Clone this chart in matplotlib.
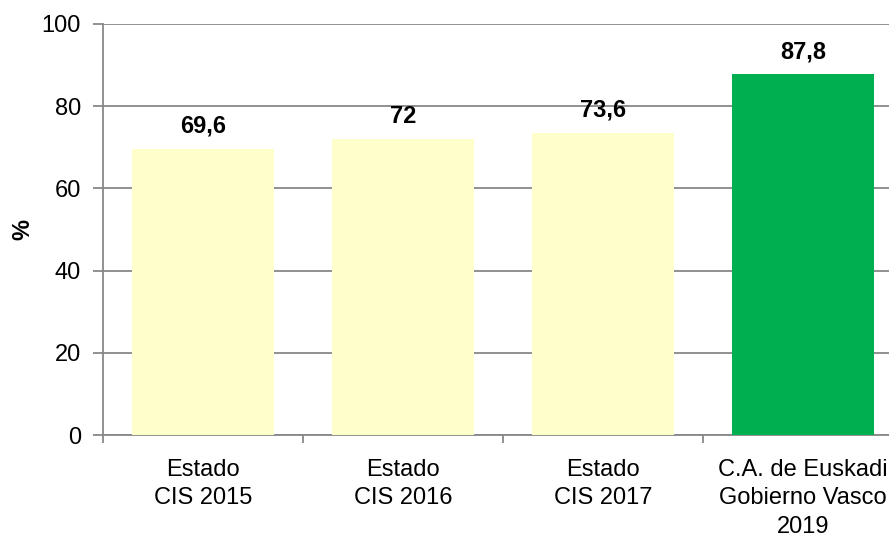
import matplotlib
matplotlib.use("Agg")
import matplotlib.pyplot as plt
from matplotlib.ticker import FixedLocator

plt.rcParams['font.family'] = ['Liberation Sans', 'DejaVu Sans']

categories = ["Estado\nCIS 2015", "Estado\nCIS 2016", "Estado\nCIS 2017",
              "C.A. de Euskadi\nGobierno Vasco\n2019"]
values = [69.6, 72, 73.6, 87.8]
value_labels = ["69,6", "72", "73,6", "87,8"]
bar_colors = ["#FFFFCC", "#FFFFCC", "#FFFFCC", "#00B050"]
y_ticks = [0, 20, 40, 60, 80, 100]

fig = plt.figure(figsize=(8.89, 5.33), dpi=100)
ax = fig.add_axes([103 / 889, 98 / 533, 800 / 889, 411 / 533])

x = list(range(len(categories)))
ax.bar(x, values, width=0.71, color=bar_colors, zorder=3)

for xi, v, lab in zip(x, values, value_labels):
    ax.annotate(lab, (xi, v), xytext=(0, 8), textcoords="offset points",
                ha="center", va="bottom", fontsize=17, fontweight="bold",
                color="black", zorder=4)

ax.set_xlim(-0.5, len(categories) - 0.5)
ax.set_ylim(0, 100)
ax.set_yticks(y_ticks)
ax.yaxis.grid(True, color="#888888", linewidth=1.3, zorder=0)
ax.set_axisbelow(True)

ax.set_xticks(x)
ax.set_xticklabels(categories, fontsize=17, linespacing=1.4)
ax.xaxis.set_minor_locator(FixedLocator([i - 0.5 for i in range(len(categories) + 1)]))
ax.tick_params(axis="x", which="major", length=0, pad=17)
ax.tick_params(axis="x", which="minor", length=6, width=1.3, color="#888888", direction="out")
ax.tick_params(axis="y", length=7, width=1.3, color="#888888", labelsize=17, pad=9)

for side in ("top", "right"):
    ax.spines[side].set_visible(False)
for side in ("left", "bottom"):
    ax.spines[side].set_color("#888888")
    ax.spines[side].set_linewidth(1.3)

ax.set_ylabel("%", fontsize=17, fontweight="bold", labelpad=5)

fig.savefig("out.png", dpi=100)
